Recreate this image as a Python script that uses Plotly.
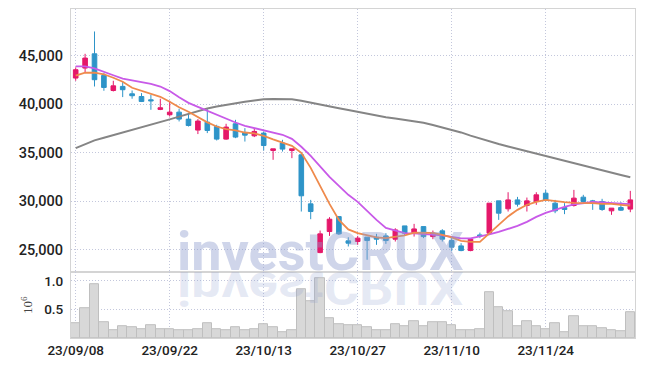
import plotly.graph_objects as go
from plotly.subplots import make_subplots

dates = [
    "2023-09-08", "2023-09-11", "2023-09-12", "2023-09-13", "2023-09-14", "2023-09-15",
    "2023-09-18", "2023-09-19", "2023-09-20", "2023-09-21", "2023-09-22",
    "2023-09-25", "2023-09-26", "2023-09-27", "2023-10-04", "2023-10-05", "2023-10-06",
    "2023-10-10", "2023-10-11", "2023-10-12", "2023-10-13",
    "2023-10-16", "2023-10-17", "2023-10-18", "2023-10-19", "2023-10-20",
    "2023-10-23", "2023-10-24", "2023-10-25", "2023-10-26", "2023-10-27",
    "2023-10-30", "2023-10-31", "2023-11-01", "2023-11-02", "2023-11-03",
    "2023-11-06", "2023-11-07", "2023-11-08", "2023-11-09", "2023-11-10",
    "2023-11-13", "2023-11-14", "2023-11-15", "2023-11-16", "2023-11-17",
    "2023-11-20", "2023-11-21", "2023-11-22", "2023-11-23", "2023-11-24",
    "2023-11-27", "2023-11-28", "2023-11-29", "2023-11-30", "2023-12-01",
    "2023-12-04", "2023-12-05", "2023-12-06", "2023-12-07",
]

opens = [42700, 43730, 45200, 42970, 41420, 41840, 41080, 40800, 40460, 39470,
         38920, 39190, 38470, 37340, 38160, 37720, 36410, 37990, 37090, 36750,
         37030, 35240, 36000, 35240, 34790, 29740, 24720, 26890, 28430, 25930,
         25860, 26310, 26310, 26440, 26100, 27470, 26780, 27400, 26370, 26960,
         25960, 25410, 24930, 26540, 26720, 30050, 29230, 30150, 29570, 29980,
         30840, 29810, 29360, 29570, 30430, 30050, 29980, 29020, 29360, 29200]
highs = [43800, 45200, 47500, 43220, 42420, 42290, 41420, 41150, 40980, 40570,
         40360, 39540, 39090, 38470, 39500, 37890, 37990, 38400, 37540, 37540,
         37200, 35410, 36340, 35410, 34970, 30150, 26990, 28370, 28430, 26300,
         26440, 26310, 26650, 26720, 27230, 27470, 27680, 27400, 26990, 27130,
         26210, 25690, 26210, 26780, 29810, 30050, 30940, 30460, 30390, 30940,
         31180, 30150, 29810, 31180, 30670, 30150, 30260, 29300, 29920, 31080]
lows = [42420, 43210, 41830, 41390, 41320, 40740, 40570, 40230, 39430, 39400,
        38740, 38230, 37710, 36930, 37030, 36270, 36340, 36510, 36160, 36620,
        35240, 34280, 35130, 34450, 28950, 28160, 24660, 26440, 26540, 25350,
        25520, 23980, 25520, 25620, 25860, 26440, 26370, 26210, 26100, 25860,
        24860, 24860, 24860, 26210, 26720, 28090, 28950, 29460, 28950, 29640,
        29980, 28780, 28680, 29460, 29810, 29120, 29020, 28610, 29020, 28880]
closes = [43560, 44760, 42530, 41730, 41900, 41500, 40880, 40290, 40360, 39640,
          39190, 38470, 37810, 38270, 37300, 36410, 37650, 36620, 36820, 37200,
          35750, 35410, 35380, 35410, 30570, 28950, 26650, 28160, 26650, 25690,
          26210, 25960, 26100, 25960, 27060, 26720, 27160, 26370, 26720, 26100,
          25280, 24930, 26100, 26440, 29810, 28780, 30150, 29710, 30050, 30670,
          30150, 29020, 29160, 30330, 29980, 29840, 29160, 29300, 29090, 30150]

ma_orange = [42940, 43250, 43250, 43090, 42730, 42320, 41700, 41390, 41080, 40770,
             40260, 39690, 39230, 38660, 38140, 37710, 37440, 37300, 37090, 37010,
             36750, 36390, 36080, 35720, 35000, 33450, 31590, 29740, 28090, 27110,
             26720, 26490, 26290, 26210, 26340, 26490, 26780, 26750, 26750, 26540,
             26290, 25930, 25820, 25820, 26650, 27580, 28450, 29120, 29640, 29950,
             30150, 30000, 29920, 29840, 29840, 29810, 29740, 29740, 29640, 29560]
ma_purple = [43900, 43900, 43690, 43380, 42990, 42650, 42470, 42300, 42090, 41830,
             41360, 40720, 40150, 39740, 39330, 38920, 38470, 38120, 37780, 37540,
             37270, 37030, 36860, 36440, 35620, 34690, 33560, 32520, 31600, 30670,
             29950, 29020, 28090, 27270, 26960, 26720, 26700, 26650, 26550, 26490,
             26340, 26180, 26180, 26370, 26600, 26850, 27130, 27470, 27890, 28400,
             28810, 29150, 29430, 29690, 29840, 29930, 29900, 29810, 29770, 29720]
ma_gray = [35480, 35850, 36280, 36550, 36810, 37080, 37340, 37610, 37870, 38170,
           38440, 38730, 39020, 39300, 39560, 39760, 39940, 40100, 40260, 40400,
           40520, 40550, 40550, 40520, 40360, 40150, 39950, 39770, 39590, 39410,
           39230, 39020, 38810, 38670, 38540, 38400, 38270, 38100, 37870, 37630,
           37390, 37100, 36770, 36460, 36160, 35910, 35650, 35400, 35140, 34900,
           34640, 34390, 34150, 33920, 33670, 33430, 33200, 32960, 32720, 32480]

volume_m = [0.257, 0.52, 0.94, 0.27, 0.14, 0.21, 0.19, 0.15, 0.22, 0.16,
            0.15, 0.135, 0.135, 0.15, 0.257, 0.15, 0.135, 0.19, 0.14, 0.15,
            0.24, 0.19, 0.10, 0.135, 0.85, 0.64, 1.04, 0.34, 0.245, 0.22,
            0.22, 0.19, 0.135, 0.135, 0.24, 0.205, 0.29, 0.205, 0.275, 0.275,
            0.22, 0.135, 0.135, 0.15, 0.80, 0.54, 0.47, 0.205, 0.29, 0.205,
            0.15, 0.257, 0.10, 0.38, 0.205, 0.205, 0.17, 0.135, 0.117, 0.45]

x_tick_vals = ["2023-09-08", "2023-09-22", "2023-10-13", "2023-10-27", "2023-11-10", "2023-11-24"]
x_tick_text = ["23/09/08", "23/09/22", "23/10/13", "23/10/27", "23/11/10", "23/11/24"]
price_ticks = [25000, 30000, 35000, 40000, 45000]
volume_ticks = [0.5, 1.0]

UP = "#e5186a"
DOWN = "#2e94c8"
GRID = "#c3c7dc"
FRAME = "#d4d4d4"
FONT_FAMILY = "Roboto, sans-serif"
TICKFONT = dict(family=FONT_FAMILY, size=13.5, color="#222", weight=500)

fig = make_subplots(rows=2, cols=1, shared_xaxes=True, vertical_spacing=0, row_heights=[0.8, 0.2])

fig.add_trace(go.Candlestick(
    x=dates, open=opens, high=highs, low=lows, close=closes,
    increasing=dict(line=dict(color=UP, width=1), fillcolor=UP),
    decreasing=dict(line=dict(color=DOWN, width=1), fillcolor=DOWN),
    whiskerwidth=0, showlegend=False,
), row=1, col=1)

fig.add_trace(go.Scatter(x=dates, y=ma_gray, mode="lines",
                         line=dict(color="#858585", width=2), showlegend=False), row=1, col=1)
fig.add_trace(go.Scatter(x=dates, y=ma_purple, mode="lines",
                         line=dict(color="#c85ae8", width=1.8), showlegend=False), row=1, col=1)
fig.add_trace(go.Scatter(x=dates, y=ma_orange, mode="lines",
                         line=dict(color="#ef8a4c", width=1.8), showlegend=False), row=1, col=1)

fig.add_trace(go.Bar(x=dates, y=volume_m,
                     marker=dict(color="#d8d8d8", line=dict(color="#bfbfbf", width=1)),
                     showlegend=False), row=2, col=1)

common_x = dict(type="category", range=[-0.5, 59.5], tickvals=x_tick_vals, ticktext=x_tick_text,
                showgrid=True, gridcolor=GRID, griddash="1px,2px", gridwidth=1,
                showline=True, mirror=True, linecolor=FRAME, linewidth=1, ticks="",
                tickfont=TICKFONT, automargin=False)
fig.update_xaxes(**common_x)
fig.update_xaxes(showticklabels=False, rangeslider=dict(visible=False), row=1, col=1)

fig.update_yaxes(range=[22700, 49815], tickvals=price_ticks, tickformat=",d",
                 showgrid=True, gridcolor=GRID, griddash="1px,2px", gridwidth=1,
                 showline=True, mirror=True, linecolor=FRAME, linewidth=1, ticks="",
                 tickfont=dict(family=FONT_FAMILY, size=14.5, color="#222", weight=500),
                 ticklabelstandoff=4, automargin=False,
                 zeroline=False, row=1, col=1)
fig.update_yaxes(range=[0, 1.15], tickvals=volume_ticks, tickformat=".1f",
                 showgrid=True, gridcolor=GRID, griddash="1px,2px", gridwidth=1,
                 showline=True, mirror=True, linecolor=FRAME, linewidth=1, ticks="",
                 tickfont=TICKFONT, zeroline=False, ticklabelstandoff=4, automargin=False,
                 title=dict(text="10<sup>6</sup>", font=dict(family="Liberation Serif", size=13, color="#444"),
                            standoff=8),
                 row=2, col=1)

fig.add_annotation(text="investCRUX", xref="paper", yref="paper", x=0.443, y=0.262,
                   xanchor="center", yanchor="middle", showarrow=False,
                   font=dict(family="Roboto", size=54, color="rgba(140,155,205,0.42)", weight="bold"))
fig.add_annotation(text="investCRUX", xref="paper", yref="paper", x=0.443, y=0.262,
                   xanchor="center", yanchor="middle", showarrow=False,
                   font=dict(family="Roboto", size=54, color="rgba(140,155,205,0.22)", weight="bold"))

fig.update_layout(width=645, height=366, margin=dict(l=71, r=10, t=9, b=28, autoexpand=False),
                  plot_bgcolor="white", paper_bgcolor="white", bargap=0, showlegend=False)

post = """
document.body.style.margin = '0';
document.body.style.padding = '0';
var gd = document.getElementById('{plot_id}');
var anns = gd.querySelectorAll('g.annotation');
if (anns.length > 1) {
  var t = anns[1].querySelector('text');
  var y0 = parseFloat(t.getAttribute('y'));
  var s = 0.85, off = 2;
  t.setAttribute('transform', 'translate(0,' + ((1 + s) * y0 + off) + ') scale(1,' + (-s) + ')');
}
"""
fig.write_html("out.html", post_script=post, config={"displayModeBar": False})
